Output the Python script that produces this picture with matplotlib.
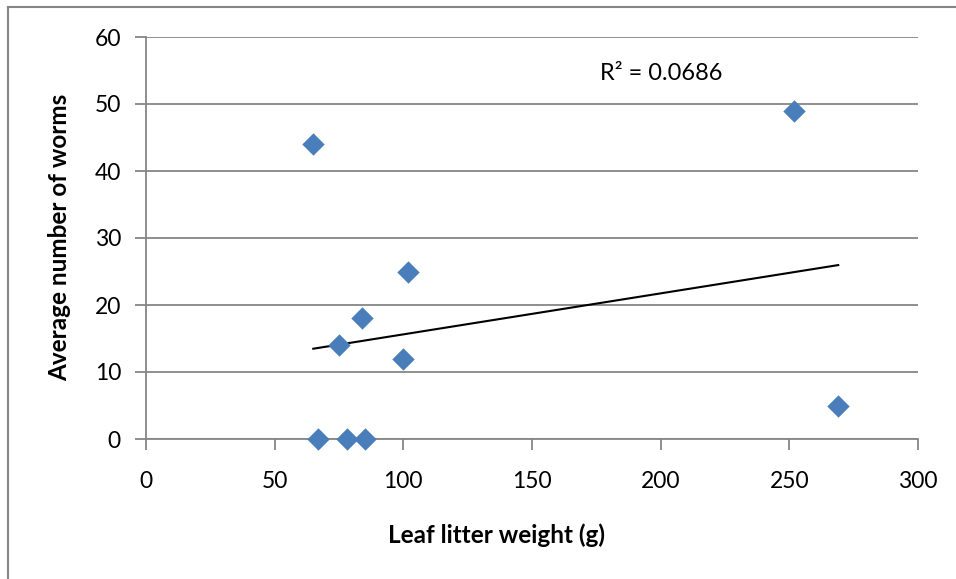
import matplotlib
matplotlib.use('Agg')
import matplotlib.pyplot as plt
from matplotlib.lines import Line2D
import numpy as np

# leaf litter weight (g) vs average worm count
litter = [65, 252, 102, 84, 75, 100, 269, 67, 78, 85]
worms = [44, 49, 25, 18, 14, 12, 5, 0, 0, 0]
r2_label = 'R² = 0.0686'

x_ticks = [0, 50, 100, 150, 200, 250, 300]
y_ticks = [0, 10, 20, 30, 40, 50, 60]

plt.rcParams['font.family'] = ['Lato', 'DejaVu Sans']
grey = '#868686'

fig = plt.figure(figsize=(9.56, 5.79), dpi=100)
ax = fig.add_axes([146 / 956, 1 - 439 / 579, (918 - 146) / 956, (439 - 37) / 579])

# outer chart frame (only left and top visible in crop)
fig.add_artist(Line2D([8 / 956, 8 / 956], [0, 1 - 7 / 579], transform=fig.transFigure,
                      color=grey, lw=1.5))
fig.add_artist(Line2D([8 / 956, 1], [1 - 7 / 579, 1 - 7 / 579], transform=fig.transFigure,
                      color=grey, lw=1.5))

ax.set_xlim(0, 300)
ax.set_ylim(0, 60)
ax.set_xticks(x_ticks)
ax.set_yticks(y_ticks)
ax.grid(axis='y', color=grey, lw=1.3)
ax.set_axisbelow(True)
for s in ['top', 'right']:
    ax.spines[s].set_visible(False)
for s in ['left', 'bottom']:
    ax.spines[s].set_color(grey)
    ax.spines[s].set_linewidth(1.3)
ax.tick_params(direction='out', length=8, width=1.3, color=grey, labelsize=16.5)
ax.tick_params(axis='x', pad=15)
ax.tick_params(axis='y', pad=10)

ax.scatter(litter, worms, marker='D', s=130, color='#4a7ebb', zorder=3,
           clip_on=False, linewidths=0)

# linear trendline over the data range
xs = np.array(litter, dtype=float)
ys = np.array(worms, dtype=float)
m, b = np.polyfit(xs, ys, 1)
xl = np.array([xs.min(), xs.max()])
ax.plot(xl, m * xl + b, color='black', lw=1.5, zorder=2)

ax.text(0.588, 0.893, r2_label, transform=ax.transAxes, fontsize=17)

fig.text(496 / 956, 1 - 535 / 579, 'Leaf litter weight (g)', fontsize=17.5,
         fontweight='bold', ha='center', va='center')
fig.text(60 / 956, 1 - 237 / 579, 'Average number of worms', fontsize=17.5,
         fontweight='bold', ha='center', va='center', rotation=90)

fig.savefig('out.png', dpi=100)
